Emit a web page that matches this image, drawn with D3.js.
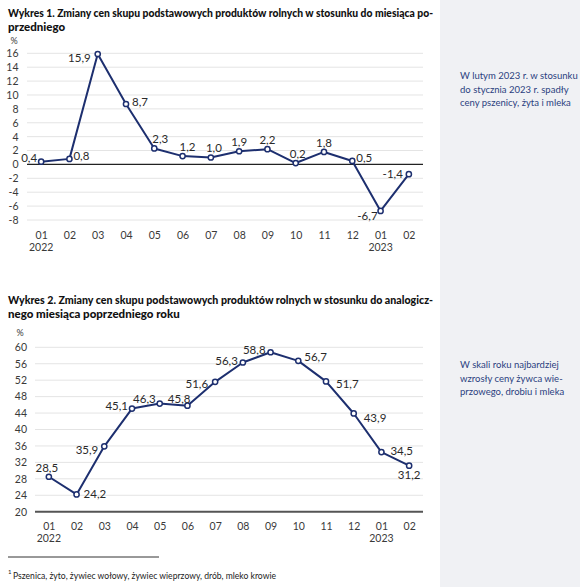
<!DOCTYPE html>
<html><head><meta charset="utf-8">
<script src="https://cdn.jsdelivr.net/npm/d3@7"></script>
<style>
body{margin:0;background:#fff;}
svg{display:block;font-family:Lato,"Noto Sans",sans-serif;}
</style></head>
<body>
<svg id="c" width="580" height="587"></svg>
<script>
// ---------- data ----------
const months = ["01","02","03","04","05","06","07","08","09","10","11","12","01","02"];
const years = ["2022","","","","","","","","","","","","2023",""];
const values1 = [0.4,0.8,15.9,8.7,2.3,1.2,1.0,1.9,2.2,0.2,1.8,0.5,-6.7,-1.4];
const values2 = [28.5,24.2,35.9,45.1,46.3,45.8,51.6,56.3,58.8,56.7,51.7,43.9,34.5,31.2];
const ticks1 = [-8,-6,-4,-2,0,2,4,6,8,10,12,14,16];
const ticks2 = [20,24,28,32,36,40,44,48,52,56,60];
const title1 = ["Wykres 1. Zmiany cen skupu podstawowych produktów rolnych w stosunku do miesiąca po-","przedniego"];
const title2 = ["Wykres 2. Zmiany cen skupu podstawowych produktów rolnych w stosunku do analogicz-","nego miesiąca poprzedniego roku"];
const note1 = ["W lutym 2023 r. w stosunku","do stycznia 2023 r. spadły","ceny pszenicy, żyta i mleka"];
const note2 = ["W skali roku najbardziej","wzrosły ceny żywca wie-","przowego, drobiu i mleka"];
const footnote = "Pszenica, żyto, żywiec wołowy, żywiec wieprzowy, drób, mleko krowie";

// ---------- layout (label offsets: [dx, dy, anchor]) ----------
const lab1 = [[-4,0,"end"],[4,1,"start"],[-7,8,"end"],[6,2,"start"],[6,-5,"middle"],[5,-5,"middle"],[3,-5,"middle"],[0,-5,"middle"],[0,-5,"middle"],[2,-5,"middle"],[0,-5,"middle"],[4,1,"start"],[-3,9,"end"],[-6,4,"end"]];
const lab2 = [[-2,-5,"middle"],[7,4,"start"],[-6,8,"end"],[-4,1,"end"],[-4,-1,"end"],[3,-3,"end"],[-7,6,"end"],[-5,2,"end"],[-5,2,"end"],[6,0,"start"],[10,7,"start"],[10,9,"start"],[9,3,"start"],[0,13,"middle"]];

const loc = d3.formatLocale({decimal:",",thousands:" ",grouping:[3],currency:["",""],minus:"-"});
const f1 = loc.format(".1f");
const fInt = loc.format("d");

const svg = d3.select("#c");
const navy = "#1d2f6f";
const txt = "#3a3a3a";

// side panel
svg.append("rect").attr("x",440).attr("y",0).attr("width",140).attr("height",587).attr("fill","#f0f1f4");

function fitText(sel, w){
  sel.each(function(){
    const l = this.getComputedTextLength();
    if (l > w) d3.select(this).attr("textLength", w).attr("lengthAdjust","spacingAndGlyphs");
  });
}

function title(lines, y0){
  lines.forEach((t,i)=>{
    const s = svg.append("text").attr("x",8).attr("y",y0+i*13.5).attr("font-size",11.5).attr("font-weight",900).attr("fill","#111").text(t);
    if(i===0) fitText(s, 425);
  });
}
title(title1, 17);
title(title2, 304);

function sideNote(lines, y0){
  lines.forEach((t,i)=>{
    svg.append("text").attr("x",460).attr("y",y0+i*13.5)
      .attr("font-size",9.5).attr("fill","#2b3f80").text(t);
  });
}
sideNote(note1, 79);
sideNote(note2, 368);

function chart(opts){
  const {values, ticks, domain, yRange, xRange, labels, axisVal, axisStyle, tickX, pctX, pctY, monthY} = opts;
  const x = d3.scalePoint().domain(d3.range(values.length)).range(xRange).padding(0.5);
  const y = d3.scaleLinear().domain(domain).range(yRange);
  const g = svg.append("g");
  g.selectAll("line.grid").data(ticks.filter(t=>t!==axisVal)).join("line")
    .attr("x1",xRange[0]).attr("x2",xRange[1]).attr("y1",d=>y(d)).attr("y2",d=>y(d))
    .attr("stroke","#e4e4e4").attr("stroke-width",1);
  g.append("line").attr("x1",xRange[0]).attr("x2",xRange[1]).attr("y1",y(axisVal)).attr("y2",y(axisVal))
    .attr("stroke",axisStyle.color).attr("stroke-width",axisStyle.width);
  const ya = d3.axisLeft(y).tickValues(ticks).tickFormat(fInt).tickSize(0).tickPadding(0);
  const yg = g.append("g").attr("transform",`translate(${tickX},0)`).call(ya);
  yg.select(".domain").remove();
  yg.selectAll("text").attr("font-size",10.5).attr("fill",txt).attr("font-family","Lato,'Noto Sans',sans-serif");
  g.append("text").attr("x",pctX).attr("y",pctY).attr("font-size",9).attr("fill",txt).attr("text-anchor","middle").text("%");
  const xa = d3.axisBottom(x).tickFormat(i=>months[i]).tickSize(0).tickPadding(0);
  const xg = g.append("g").attr("transform",`translate(0,${monthY})`).call(xa);
  xg.select(".domain").remove();
  xg.selectAll("text").attr("font-size",10.5).attr("fill",txt).attr("dy",0).attr("font-family","Lato,'Noto Sans',sans-serif");
  g.selectAll("text.yr").data(years.map((t,i)=>({t,i})).filter(d=>d.t)).join("text")
    .attr("x",d=>x(d.i)).attr("y",monthY+12).attr("text-anchor","middle").attr("font-size",10.5).attr("fill",txt).text(d=>d.t);
  const line = d3.line().x((d,i)=>x(i)).y(d=>y(d));
  g.append("path").datum(values).attr("d",line).attr("fill","none").attr("stroke",navy).attr("stroke-width",2).attr("stroke-linejoin","round");
  g.selectAll("circle").data(values).join("circle")
    .attr("cx",(d,i)=>x(i)).attr("cy",d=>y(d)).attr("r",2.6)
    .attr("fill","#fff").attr("stroke",navy).attr("stroke-width",1.5);
  g.selectAll("text.lab").data(values).join("text")
    .attr("x",(d,i)=>x(i)+labels[i][0]).attr("y",(d,i)=>y(d)+labels[i][1])
    .attr("text-anchor",(d,i)=>labels[i][2])
    .attr("font-size",11.5).attr("fill","#2a2a2a").text(d=>f1(d));
}

chart({values:values1, ticks:ticks1, domain:[-8,16], yRange:[220,53.3], xRange:[27,423], labels:lab1,
  axisVal:0, axisStyle:{color:"#222",width:1.3}, tickX:18.5, pctX:14, pctY:44, monthY:239});
chart({values:values2, ticks:ticks2, domain:[20,60], yRange:[511.7,347.3], xRange:[35,423], labels:lab2,
  axisVal:20, axisStyle:{color:"#555",width:2}, tickX:27, pctX:20, pctY:336, monthY:530});

// footnote
svg.append("line").attr("x1",8).attr("x2",159).attr("y1",557).attr("y2",557).attr("stroke","#333").attr("stroke-width",1);
svg.append("text").attr("x",8).attr("y",574).attr("font-size",6).attr("fill","#222").text("1");
const fn = svg.append("text").attr("x",13).attr("y",579).attr("font-size",9.5).attr("fill","#222").text(footnote);
fitText(fn, 263);
</script>
</body></html>
